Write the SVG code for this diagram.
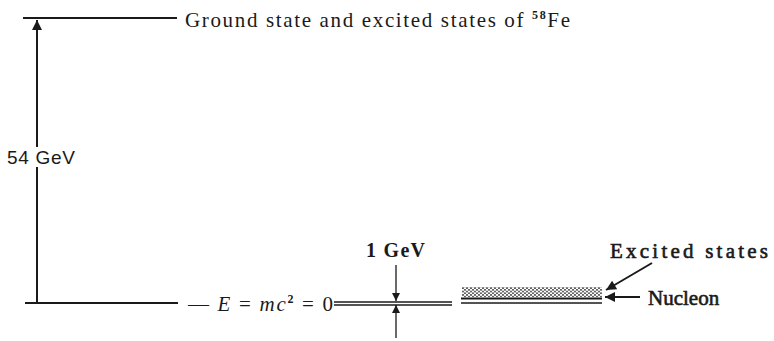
<svg xmlns="http://www.w3.org/2000/svg" width="774" height="341" viewBox="0 0 774 341">
<style>
.ln{stroke:#1a1a1a;stroke-width:2;fill:none}
.thin{stroke:#1a1a1a;stroke-width:1.3;fill:none}
.t{font-family:"Liberation Serif",serif;fill:#1a1a1a}
.h{stroke:#1a1a1a;stroke-width:0.6}
.s{font-family:"Liberation Sans",sans-serif;fill:#1a1a1a}
</style>
<defs>
<marker id="ah" viewBox="0 0 10 10" refX="10" refY="5" markerWidth="10" markerHeight="8" markerUnits="userSpaceOnUse" orient="auto">
<path d="M0,0 L10,5 L0,10 z" fill="#1a1a1a"/>
</marker>
<marker id="ahb" viewBox="0 0 10 10" refX="10" refY="5" markerWidth="14" markerHeight="10" markerUnits="userSpaceOnUse" orient="auto">
<path d="M0,0 L10,5 L0,10 z" fill="#1a1a1a"/>
</marker>
<pattern id="dots" width="4" height="3.4" patternUnits="userSpaceOnUse">
<circle cx="1" cy="0.9" r="0.8" fill="#000"/>
<circle cx="3" cy="2.6" r="0.8" fill="#000"/>
</pattern>
</defs>
<g id="connectors">
<line class="ln" x1="37" y1="303" x2="37" y2="167"/>
<line class="ln" x1="37" y1="147" x2="37" y2="20" marker-end="url(#ahb)"/>
<line class="thin" x1="396" y1="265" x2="396" y2="301" marker-end="url(#ah)"/>
<line class="thin" x1="396" y1="338" x2="396" y2="305" marker-end="url(#ah)"/>
<line class="ln" x1="652" y1="263" x2="606" y2="290" marker-end="url(#ahb)"/>
<line class="ln" x1="640" y1="297" x2="605" y2="297" marker-end="url(#ahb)"/>
</g>
<g id="fe-level">
<line class="ln" x1="23" y1="18" x2="177" y2="18"/>
<text class="t" x="185" y="27" font-size="21" textLength="385" lengthAdjust="spacing">Ground state and excited states of <tspan font-size="12" font-weight="bold" dy="-8">58</tspan><tspan dy="8">Fe</tspan></text>
</g>
<g id="gap-label">
<text class="s" x="7" y="164" font-size="19" textLength="68" lengthAdjust="spacing">54 GeV</text>
</g>
<g id="zero-level">
<line class="ln" x1="25" y1="303" x2="178" y2="303"/>
<text class="t" x="188" y="311" font-size="21" textLength="145" lengthAdjust="spacing" xml:space="preserve">— <tspan font-style="italic">E</tspan> = <tspan font-style="italic">mc</tspan><tspan font-size="12" dy="-8" font-weight="bold">2</tspan><tspan dy="8"> = 0</tspan></text>
<line class="thin" x1="334" y1="302" x2="452" y2="302"/>
<line class="thin" x1="334" y1="305" x2="452" y2="305"/>
</g>
<g id="one-gev">
<text class="t" x="366" y="257" font-size="20" font-weight="bold" textLength="59" lengthAdjust="spacing">1 GeV</text>
</g>
<g id="nucleon-band">
<rect x="462" y="287" width="140" height="10" fill="url(#dots)"/>
<line class="ln" x1="461" y1="298.5" x2="602" y2="298.5"/>
<line class="thin" x1="461" y1="303" x2="602" y2="303"/>
</g>
<g id="excited-label">
<text class="t h" x="610" y="258" font-size="21" textLength="158" lengthAdjust="spacing">Excited states</text>
</g>
<g id="nucleon-label">
<text class="t h" x="648" y="305" font-size="21">Nucleon</text>
</g>
</svg>
